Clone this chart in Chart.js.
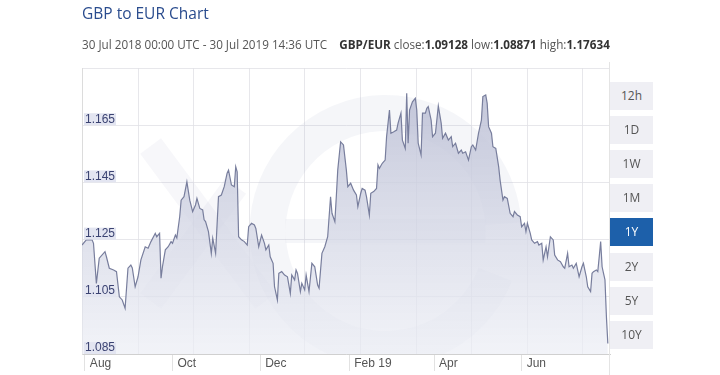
<!DOCTYPE html>
<html><head><meta charset="utf-8">
<script src="https://cdn.jsdelivr.net/npm/chart.js@4/dist/chart.umd.min.js"></script>
<style>
html,body{margin:0;padding:0;width:720px;height:375px;overflow:hidden;background:#fff;font-family:"Open Sans",sans-serif;}
#c{position:absolute;left:0;top:0;}
#title{position:absolute;left:82px;top:0;font-size:15.5px;color:#2a4c8e;line-height:26px;white-space:nowrap;}
#sub{position:absolute;left:82px;top:35px;font-size:11.7px;color:#555;line-height:18px;white-space:nowrap;}
#sub b{color:#333;font-weight:700}
#rline{position:absolute;left:609px;top:62px;width:1px;height:313px;background:#e4e4e4;}
.btn{position:absolute;left:610px;width:43px;height:28px;background:#efeff4;color:#555;font-size:12px;text-align:center;line-height:28px;}
.btn.on{background:#1d60aa;color:#fff;}
</style></head>
<body>
<canvas id="c" width="720" height="375"></canvas>
<div id="title">GBP to EUR Chart</div>
<div id="sub">30 Jul 2018 00:00 UTC - 30 Jul 2019 14:36 UTC &nbsp;&nbsp; <b>GBP/EUR</b> close:<b>1.09128</b> low:<b>1.08871</b> high:<b>1.17634</b></div>
<div id="rline"></div>
<div id="btns"></div>
<script>
// Days since 30 Jul 2018
const days = [0,3,7,8,10,12,16,17,19,22,24,26,28,30,32,34,35,37,39,41,44,46,48,51,52,54,55,56,58,60,62,63,65,66,68,69,71,73,75,77,79,80,82,84,85,86,88,90,91,93,95,97,99,101,102,104,106,107,108,109,111,113,115,116,118,120,121,123,125,127,128,130,131,133,134,136,137,139,141,143,145,146,148,149,150,152,153,155,156,158,160,162,164,165,167,169,171,173,174,176,177,178,180,182,184,185,187,189,191,192,194,195,197,198,200,201,203,205,206,207,209,211,212,214,215,217,219,220,222,223,225,226,227,228,230,232,233,234,236,237,239,240,241,243,244,246,248,250,251,253,255,257,258,260,262,264,265,267,269,271,272,274,276,278,279,281,282,283,285,286,288,290,291,293,294,296,298,300,301,303,305,306,308,309,310,312,313,315,317,318,320,321,323,324,326,328,329,331,333,335,336,338,339,341,342,344,346,348,349,351,352,354,355,356,358,359,360,361,362,363,364,365,366];
const rates = [1.1231,1.1249,1.1249,1.1237,1.1097,1.1185,1.1208,1.1190,1.1150,1.1144,1.1138,1.1050,1.1039,1.1010,1.1150,1.1161,1.1151,1.1085,1.1120,1.1179,1.1225,1.1220,1.1243,1.1272,1.1260,1.1272,1.1115,1.1155,1.1214,1.1225,1.1243,1.1237,1.1266,1.1256,1.1330,1.1388,1.1400,1.1452,1.1388,1.1348,1.1371,1.1394,1.1359,1.1354,1.1319,1.1313,1.1278,1.1202,1.1255,1.1202,1.1400,1.1406,1.1435,1.1482,1.1493,1.1441,1.1435,1.1505,1.1487,1.1260,1.1249,1.1243,1.1231,1.1295,1.1307,1.1301,1.1289,1.1225,1.1266,1.1237,1.1214,1.1231,1.1190,1.1167,1.1085,1.1039,1.1132,1.1138,1.1126,1.1120,1.1062,1.1126,1.1109,1.1144,1.1132,1.1068,1.1097,1.1074,1.1126,1.1068,1.1167,1.1155,1.1091,1.1080,1.1202,1.1225,1.1260,1.1400,1.1342,1.1313,1.1400,1.1493,1.1592,1.1581,1.1493,1.1435,1.1447,1.1423,1.1406,1.1365,1.1412,1.1429,1.1423,1.1400,1.1336,1.1412,1.1418,1.1429,1.1511,1.1499,1.1517,1.1528,1.1610,1.1703,1.1622,1.1627,1.1633,1.1657,1.1692,1.1598,1.1569,1.1762,1.1587,1.1703,1.1732,1.1744,1.1703,1.1587,1.1546,1.1692,1.1692,1.1709,1.1715,1.1668,1.1610,1.1622,1.1717,1.1657,1.1604,1.1622,1.1598,1.1610,1.1575,1.1587,1.1552,1.1563,1.1552,1.1557,1.1528,1.1575,1.1581,1.1563,1.1622,1.1668,1.1750,1.1756,1.1727,1.1645,1.1622,1.1575,1.1569,1.1505,1.1458,1.1388,1.1400,1.1394,1.1342,1.1330,1.1348,1.1336,1.1330,1.1295,1.1307,1.1278,1.1307,1.1272,1.1249,1.1237,1.1243,1.1231,1.1237,1.1179,1.1225,1.1190,1.1260,1.1249,1.1196,1.1179,1.1173,1.1155,1.1150,1.1202,1.1155,1.1161,1.1150,1.1167,1.1120,1.1155,1.1167,1.1120,1.1085,1.1068,1.1132,1.1138,1.1144,1.1138,1.1190,1.1243,1.1155,1.1132,1.1109,1.0980,1.0887];
const monthTickDays = [2,63,124,186,245,306];
const monthTickLabels = ['Aug','Oct','Dec','Feb 19','Apr','Jun'];
const yTickValues = [1.085,1.105,1.125,1.145,1.165,1.185];
const rangeButtons = ['12h','1D','1W','1M','1Y','2Y','5Y','10Y'];
const activeRange = '1Y';
const gridStartDay = 0.6, gridStepDay = 38.65, gridCount = 10;

const btns = document.getElementById('btns');
rangeButtons.forEach((b,i)=>{
  const d = document.createElement('div');
  d.className = 'btn' + (b===activeRange?' on':'');
  d.style.top = (82 + i*34.1) + 'px';
  d.textContent = b;
  btns.appendChild(d);
});

// faint brand watermark behind the plot
const watermark = {
  id:'watermark',
  beforeDatasetsDraw(chart){
    const c = chart.ctx, a = chart.chartArea;
    c.save();
    c.beginPath(); c.rect(a.left,a.top,a.right-a.left,a.bottom-a.top); c.clip();
    c.fillStyle = 'rgba(120,126,165,0.07)';
    const cx = a.left + (a.right-a.left)*0.575, cy = a.top + (a.bottom-a.top)*0.57;
    c.beginPath();
    c.arc(cx,cy,136,Math.PI*0.12,Math.PI*1.98,false);
    c.arc(cx,cy,100,Math.PI*1.98,Math.PI*0.12,true);
    c.closePath(); c.fill();
    c.fillRect(cx-100,cy-12,200,24);
    c.lineWidth = 26; c.strokeStyle = 'rgba(120,126,165,0.06)';
    c.beginPath(); c.moveTo(cx-235,cy-85); c.lineTo(cx-120,cy+70); c.stroke();
    c.beginPath(); c.moveTo(cx-235,cy+70); c.lineTo(cx-150,cy-45); c.stroke();
    c.restore();
  }
};

const pts = days.map((d,i)=>({x:d,y:rates[i]}));
new Chart(document.getElementById('c'), {
  type:'line',
  data:{datasets:[{
    data:pts,
    borderColor:'#787e9d',
    borderWidth:1.2,
    pointRadius:0,
    tension:0,
    fill:'start',
    backgroundColor:(ctx)=>{
      const ch = ctx.chart, a = ch.chartArea;
      if(!a) return 'rgba(200,203,220,0.6)';
      const g = ch.ctx.createLinearGradient(0,a.top,0,a.bottom);
      g.addColorStop(0,'rgba(180,184,208,0.85)');
      g.addColorStop(1,'rgba(236,238,245,0.7)');
      return g;
    }
  }]},
  plugins:[watermark],
  options:{
    responsive:false,
    animation:false,
    layout:{padding:{left:82,right:110,top:68,bottom:0}},
    plugins:{legend:{display:false},tooltip:{enabled:false}},
    scales:{
      x:{
        type:'linear', position:'bottom', min:0, max:367.5,
        afterBuildTicks:(s)=>{ s.ticks = monthTickDays.map(v=>({value:v})); },
        afterFit:(s)=>{ s.height = 21; },
        ticks:{
          autoSkip:false, maxRotation:0, align:'start', labelOffset:5, padding:-15,
          color:'#555', font:{family:'Liberation Sans', size:12},
          callback:(v,i)=>monthTickLabels[i]
        },
        grid:{drawOnChartArea:false, drawTicks:true, tickLength:17, color:'#e2e2e2'},
        border:{display:true, color:'#d0d0d0'}
      },
      xg:{
        type:'linear', position:'bottom', min:0, max:367.5,
        afterBuildTicks:(s)=>{ s.ticks = Array.from({length:gridCount},(_,k)=>({value:gridStartDay + k*gridStepDay})); },
        afterFit:(s)=>{ s.height = 0; },
        ticks:{display:false},
        grid:{color:'rgba(225,225,230,0.8)', drawTicks:false},
        border:{display:false}
      },
      y:{
        type:'linear', min:1.085, max:1.185,
        afterBuildTicks:(s)=>{ s.ticks = yTickValues.map(v=>({value:v})); },
        afterFit:(s)=>{ s.width = 0; },
        ticks:{
          z:2, autoSkip:false, mirror:true, padding:3, labelOffset:-6,
          color:'#3b4372', font:{family:'Liberation Sans', size:12, lineHeight:1},
          showLabelBackdrop:true,
          backdropColor:(c)=> (c.tick && c.tick.value > 1.18) ? 'rgba(0,0,0,0)' : '#e3e5f1',
          backdropPadding:{left:1,right:1,top:0,bottom:0},
          callback:(v)=> v > 1.18 ? '' : v.toFixed(3)
        },
        grid:{color:'rgba(225,225,230,0.8)', drawTicks:false},
        border:{display:true, color:'#dcdcdc'}
      }
    }
  }
});
</script>
</body></html>
